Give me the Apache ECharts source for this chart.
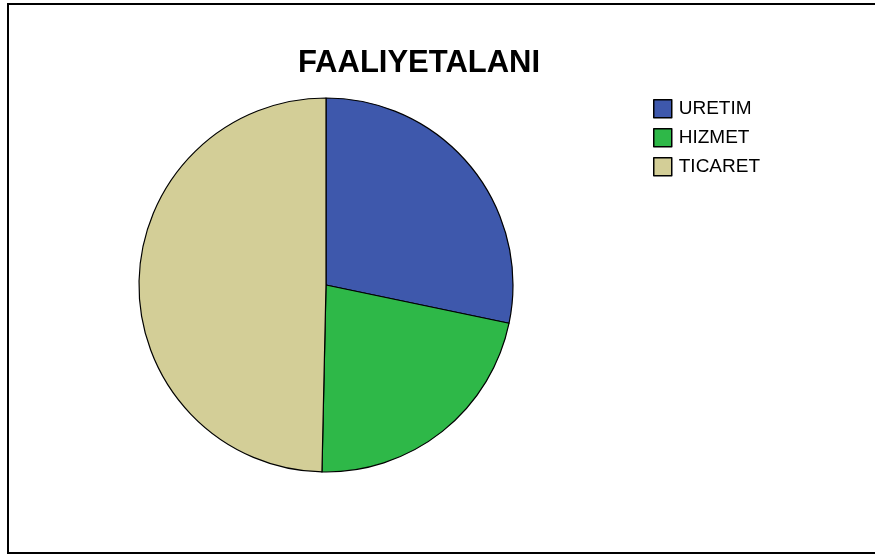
<!DOCTYPE html>
<html>
<head>
<meta charset="utf-8">
<script src="https://cdn.jsdelivr.net/npm/echarts@6/dist/echarts.min.js"></script>
<style>
html,body{margin:0;padding:0;background:#fff;}
#c{width:875px;height:555px;}
</style>
</head>
<body>
<div id="c"></div>
<script>
var titleText = 'FAALIYETALANI';
var categories = ['URETIM', 'HIZMET', 'TICARET'];
var values = [41, 32, 72];
var colors = ['#3E58AC', '#2EB848', '#D3CE97'];

var chart = echarts.init(document.getElementById('c'), null, {renderer: 'canvas'});
var data = categories.map(function (c, i) {
  return {name: c, value: values[i], itemStyle: {color: colors[i]}};
});
chart.setOption({
  animation: false,
  backgroundColor: '#ffffff',
  title: {
    text: titleText,
    left: 419,
    top: 48,
    textAlign: 'center',
    padding: 0,
    textStyle: {
      fontFamily: "'Liberation Sans', Arial, sans-serif",
      fontSize: 31,
      fontWeight: 'bold',
      color: '#000',
      lineHeight: 31
    }
  },
  legend: {
    orient: 'vertical',
    left: 653,
    top: 99,
    padding: 0,
    itemWidth: 18,
    itemHeight: 18,
    itemGap: 9.5,
    icon: 'rect',
    selectedMode: false,
    itemStyle: {borderColor: '#000', borderWidth: 1.5},
    textStyle: {
      fontFamily: "'Liberation Sans', Arial, sans-serif",
      fontSize: 19,
      color: '#000',
      padding: [0, 0, 0, 2]
    },
    data: categories
  },
  graphic: [{
    type: 'polyline',
    shape: {points: [[880, 4], [8, 4], [8, 553], [880, 553]]},
    style: {stroke: '#000', lineWidth: 2, fill: null},
    silent: true
  }],
  series: [{
    type: 'pie',
    center: [326, 285],
    radius: 187,
    startAngle: 90,
    clockwise: true,
    label: {show: false},
    labelLine: {show: false},
    emphasis: {disabled: true},
    itemStyle: {borderColor: '#000', borderWidth: 1.2},
    data: data
  }]
});
</script>
</body>
</html>
